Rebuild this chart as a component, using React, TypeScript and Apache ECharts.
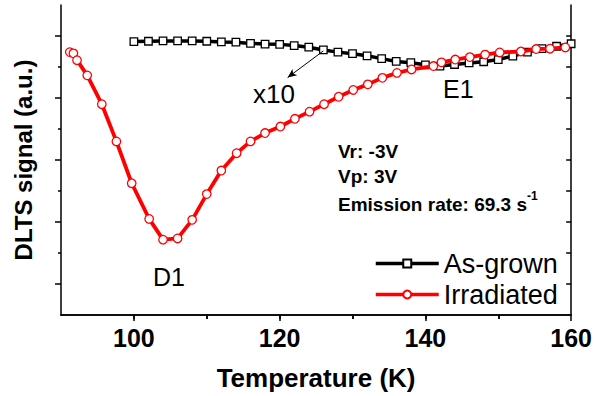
import React, { useEffect, useRef } from "react";
import * as echarts from "echarts";

const FONT = "'Liberation Sans', Arial, sans-serif";

// As-grown (x10), temperature in K and DLTS signal in arbitrary units
const asGrownT = [100, 102, 104, 106, 108, 110, 112, 114, 116, 118, 120, 122, 124, 126, 128, 130, 132, 134, 136, 138, 140, 142, 144, 146, 148, 150, 152, 154, 156, 158, 160];
const asGrownSignal = [8.82, 8.83, 8.84, 8.84, 8.84, 8.83, 8.81, 8.8, 8.76, 8.74, 8.73, 8.69, 8.64, 8.55, 8.48, 8.43, 8.36, 8.27, 8.18, 8.14, 8.07, 8.03, 8.08, 8.13, 8.17, 8.24, 8.35, 8.48, 8.59, 8.67, 8.75];

// Irradiated
const irrT = [91.2, 91.7, 92.2, 93.6, 95.6, 97.6, 99.7, 102.1, 104.0, 106.0, 108.0, 110.0, 112.0, 114.1, 116.0, 118.0, 120.1, 122.1, 124.1, 126.1, 128.1, 130.1, 132.1, 134.1, 136.1, 138.1, 141.1, 142.2, 144.1, 146.1, 148.2, 150.2, 153.1, 155.2, 157.1, 159.2];
const irrSignal = [8.48, 8.44, 8.22, 7.73, 6.8, 5.6, 4.25, 3.1, 2.43, 2.47, 3.07, 3.9, 4.66, 5.22, 5.6, 5.87, 6.08, 6.33, 6.56, 6.8, 7.04, 7.26, 7.44, 7.65, 7.81, 7.92, 8.03, 8.15, 8.24, 8.32, 8.4, 8.47, 8.5, 8.58, 8.59, 8.63];

const xLabelTicks = [100, 120, 140, 160];
const xMinorTicks = [110, 130, 150];
const xTopTicks = [100, 110, 120, 130, 140, 150];
const yMajorTicks = [1, 3, 5, 7, 9];
const yMinorTicks = [2, 4, 6, 8];
const yRightTicks = [1, 2, 3, 4, 5, 6, 7, 8, 9];

// arrow from the As-grown curve towards the "x10" label
const arrowFrom = [126, 8.52];
const arrowTo = [121.1, 7.66];

export default function App() {
  const ref = useRef<HTMLDivElement>(null);
  useEffect(() => {
    if (!ref.current) return;
    document.body.style.margin = "0";
    const chart = echarts.init(ref.current, null, { renderer: "svg" });
    const lineCol = "#000";
    const xBase = { type: "value", min: 90, max: 160, interval: 10, splitLine: { show: false } };
    const yBase = { type: "value", min: 0, max: 10, interval: 1, splitLine: { show: false } };
    chart.setOption({
      animation: false,
      backgroundColor: "#fff",
      grid: { left: 61, right: 22, top: 5, bottom: 78, containLabel: false },
      xAxis: [
        {
          ...xBase,
          position: "bottom",
          axisLine: { lineStyle: { color: lineCol, width: 1.5 } },
          axisTick: { customValues: xLabelTicks, length: 6, inside: false, lineStyle: { color: lineCol, width: 1.5 } },
          axisLabel: {
            customValues: xLabelTicks,
            margin: 10,
            color: "#000",
            fontSize: 25,
            fontWeight: "bold",
            fontFamily: FONT,
          },
          name: "Temperature (K)",
          nameLocation: "middle",
          nameGap: 50,
          nameTextStyle: { fontSize: 26, fontWeight: "bold", fontFamily: FONT, color: "#000" },
        },
        {
          ...xBase,
          position: "bottom",
          axisLine: { show: false },
          axisTick: { customValues: xMinorTicks, length: 4, inside: false, lineStyle: { color: lineCol, width: 1.5 } },
          axisLabel: { show: false },
        },
        {
          ...xBase,
          position: "top",
          axisLine: { lineStyle: { color: lineCol, width: 1.5 } },
          axisTick: { customValues: xTopTicks, length: 4, inside: true, lineStyle: { color: lineCol, width: 1.5 } },
          axisLabel: { show: false },
        },
      ],
      yAxis: [
        {
          ...yBase,
          position: "left",
          axisLine: { show: true, lineStyle: { color: lineCol, width: 1.5 } },
          axisTick: { show: true, customValues: yMajorTicks, length: 6, inside: false, lineStyle: { color: lineCol, width: 1.5 } },
          axisLabel: { show: false },
          name: "DLTS signal (a.u.)",
          nameLocation: "middle",
          nameGap: 26,
          nameTextStyle: { fontSize: 24, fontWeight: "bold", fontFamily: FONT, color: "#000" },
        },
        {
          ...yBase,
          position: "left",
          axisLine: { show: false },
          axisTick: { show: true, customValues: yMinorTicks, length: 3, inside: false, lineStyle: { color: lineCol, width: 1.5 } },
          axisLabel: { show: false },
        },
        {
          ...yBase,
          position: "right",
          axisLine: { show: true, lineStyle: { color: lineCol, width: 1.5 } },
          axisTick: { show: true, customValues: yRightTicks, length: 5, inside: true, lineStyle: { color: lineCol, width: 1.5 } },
          axisLabel: { show: false },
        },
      ],
      legend: {
        orient: "vertical",
        left: 369,
        top: 245,
        itemWidth: 63,
        itemHeight: 10,
        itemGap: 4,
        lineStyle: { width: 3.5 },
        textStyle: { fontSize: 27, fontFamily: FONT, color: "#000" },
        data: ["As-grown", "Irradiated"],
      },
      series: [
        {
          name: "As-grown",
          type: "line",
          data: asGrownT.map((t, i) => [t, asGrownSignal[i]]),
          symbol: "rect",
          symbolSize: 7.5,
          itemStyle: { color: "#fff", borderColor: "#000", borderWidth: 1.3 },
          lineStyle: { color: "#000", width: 3.5 },
          z: 2,
          markLine: {
            silent: true,
            symbol: ["none", "arrow"],
            symbolSize: [6, 9],
            label: { show: false },
            lineStyle: { color: "#000", width: 1, type: "solid" },
            data: [[{ coord: arrowFrom }, { coord: arrowTo }]],
          },
        },
        {
          name: "Irradiated",
          type: "line",
          data: irrT.map((t, i) => [t, irrSignal[i]]),
          symbol: "circle",
          symbolSize: 8.5,
          itemStyle: { color: "#fff", borderColor: "#ff0000", borderWidth: 1.3 },
          lineStyle: { color: "#ff0000", width: 3.8 },
          z: 3,
        },
      ],
      graphic: [
        { type: "text", left: 253, top: 81, style: { text: "x10", fontSize: 26, fontFamily: FONT, fill: "#000" } },
        { type: "text", left: 443, top: 76, style: { text: "E1", fontSize: 25, fontFamily: FONT, fill: "#000" } },
        { type: "text", left: 153, top: 264, style: { text: "D1", fontSize: 25, fontFamily: FONT, fill: "#000" } },
        { type: "text", left: 338, top: 142, style: { text: "Vr: -3V", fontSize: 19, fontWeight: "bold", fontFamily: FONT, fill: "#000" } },
        { type: "text", left: 338, top: 167, style: { text: "Vp: 3V", fontSize: 19, fontWeight: "bold", fontFamily: FONT, fill: "#000" } },
        {
          type: "text",
          left: 338,
          top: 190,
          style: {
            text: "{a|Emission rate: 69.3 s}{b|-1}",
            fontFamily: FONT,
            fill: "#000",
            rich: {
              a: { fontSize: 19, fontWeight: "bold", fontFamily: FONT, lineHeight: 24, verticalAlign: "bottom" },
              b: { fontSize: 12, fontWeight: "bold", fontFamily: FONT, lineHeight: 24, verticalAlign: "top" },
            },
          },
        },
      ],
    });
    return () => chart.dispose();
  }, []);
  return <div ref={ref} style={{ width: 595, height: 396 }} />;
}
